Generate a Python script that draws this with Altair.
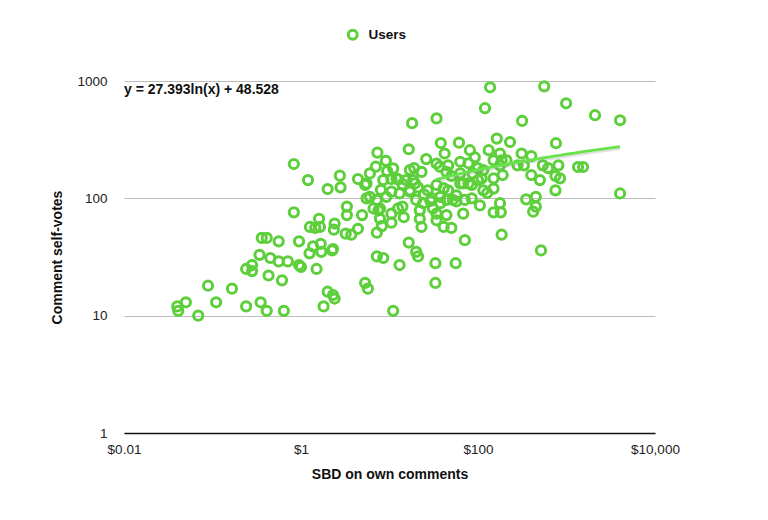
import altair as alt
import pandas as pd

# ---- data (SBD on own comments vs comment self-votes) ----
x_sbd = [
    0.040, 0.041, 0.050, 0.069, 0.089, 0.11, 0.166, 0.24, 0.24, 0.28, 0.28, 0.35, 0.41, 0.64,
    0.36, 0.41, 0.56, 0.95, 0.34, 0.45, 0.56, 0.71, 0.43, 0.61, 0.95, 0.83, 0.83,
    1.2, 2.75, 2.8, 2.0, 4.4, 5.3, 6.0, 5.5, 8.0, 10.5, 13, 7.2, 7.8, 9.2,
    3.3, 3.3, 4.9, 6.6, 7.5, 7.8, 10.5, 14, 14.5, 10.5,
    1.6, 1.26, 1.45, 1.64, 2.4, 2.35, 1.25, 1.37, 1.67, 1.7, 2.25, 2.3, 3.7, 4.4, 1.0, 1.5,
    3.2, 7.2, 7.2, 2.0, 2.3, 2.4, 1.8, 5.3, 5.7, 11, 8.5, 13,
    7.3, 9.1, 7.0, 6.0, 11, 12, 10.5, 9.4, 12.5, 8.5, 5.5, 12.5, 8.2,
    18, 34, 38, 61, 16.5, 42, 26, 17, 19, 23, 18.5, 17, 34, 37, 46, 63, 44, 63,
    17, 20, 24.5, 24, 30, 34, 41, 63, 52, 44, 37.5, 34, 44, 68, 71,
    22, 22, 23, 34, 41, 50,
    15.5, 19.4, 14, 21, 27, 29, 31, 37.5, 46, 57, 57,
    16.5, 20, 21, 33, 56, 71, 33,
    137, 560, 120, 990, 315, 2100, 4030, 163, 230, 132, 177, 185, 760, 311, 400,
    150, 210, 177, 78, 100, 115, 87, 280, 330, 540, 620, 810, 500, 750, 845, 400,
    1350, 1540, 4030, 750, 110, 150, 190, 150, 115, 85, 68, 85, 105, 177, 150, 181,
    350, 450, 450, 420, 185, 515,
    81, 92, 50, 78, 127, 100,
]
y_votes = [
    12, 11, 13, 10, 18, 13, 17, 12, 25, 24, 27, 13, 11, 11,
    46, 46, 43, 43, 33, 31, 29, 29, 22, 20, 27, 196, 76,
    143, 156, 124, 120, 146, 130, 103, 100, 118, 114, 110, 97, 82, 103,
    85, 72, 72, 82, 79, 67, 74, 85, 69, 62,
    67, 57, 56, 57, 61, 54, 34, 39, 41, 35, 36, 37, 49, 55, 26, 25,
    50, 51, 32, 16, 15, 14, 12, 19, 17, 11, 31, 27,
    245, 209, 186, 163, 180, 148, 146, 171, 145, 143, 134, 82, 58,
    437, 480, 296, 298, 262, 241, 216, 174, 181, 168, 143, 117, 198, 186, 191, 205, 168, 163,
    114, 97, 108, 91, 100, 130, 122, 134, 97, 97, 91, 74, 72, 74, 97,
    79, 67, 57, 65, 57, 56,
    143, 134, 132, 124, 117, 95, 82, 103, 117, 106, 94,
    42, 35, 32, 28, 28, 44, 19,
    884, 900, 586, 646, 457, 511, 463, 323, 302, 257, 241, 211, 295, 241, 229,
    211, 211, 191, 199, 181, 174, 163, 191, 191, 191, 181, 191, 143, 155, 148, 158,
    185, 185, 110, 117, 148, 148, 158, 121, 117, 130, 134, 100, 87, 91, 76, 76,
    98, 103, 85, 77, 49, 36,
    257, 224, 155, 134, 111, 143,
]
series_name = ["Users"]

# trend line shown on the chart: y = 27.393 ln(x) + 48.528, drawn over the fitted x range
trend_slope = 27.393
trend_intercept = 48.528
trend_x_start = 33.5
trend_x_end = 4030
equation_label = ["y = 27.393ln(x) + 48.528"]

x_tick_values = [0.01, 1, 100, 10000]
y_tick_values = [1, 10, 100, 1000]

GREEN = "#5ccf3b"
LINE_GREEN = "#66e44a"
FONT = "Liberation Sans"

df = pd.DataFrame({"x": x_sbd, "y": y_votes})
df["series"] = series_name[0]

xscale = alt.Scale(type="log", domain=[0.01, 10000])
yscale = alt.Scale(type="log", domain=[1, 1000])

points = alt.Chart(df).mark_point(
    shape="circle", filled=False, size=85, strokeWidth=3, opacity=1
).encode(
    x=alt.X(
        "x:Q", scale=xscale,
        axis=alt.Axis(
            values=x_tick_values, labelExpr="'$' + format(datum.value, ',')",
            title="SBD on own comments", grid=False, ticks=False,
            domainColor="#111111", domainWidth=1.5, labelPadding=9,
            titlePadding=12, labelFlush=False,
        ),
    ),
    y=alt.Y(
        "y:Q", scale=yscale,
        axis=alt.Axis(
            values=y_tick_values, format="d", title="Comment self-votes",
            grid=True, gridColor="#bdbdbd", gridWidth=1.2, domain=False,
            ticks=False, labelPadding=17, titlePadding=12, labelFlush=False,
        ),
    ),
    color=alt.Color(
        "series:N", scale=alt.Scale(range=[GREEN]),
        legend=alt.Legend(
            title=None, orient="none", legendX=222, legendY=-53,
            symbolType="circle", symbolStrokeWidth=3, symbolSize=80,
            symbolFillColor="transparent", labelFont=FONT, labelFontSize=13.5,
            labelFontWeight="bold", labelColor="#111111", labelOffset=9,
        ),
    ),
)

trend_base = alt.Chart(alt.sequence(0, 1.0001, 0.02, as_="t")).transform_calculate(
    x=f"{trend_x_start} * pow({trend_x_end} / {trend_x_start}, datum.t)"
).transform_calculate(
    y=f"{trend_slope} * log(datum.x) + {trend_intercept}"
)

trend_shadow = trend_base.mark_line(
    color="#888888", strokeWidth=3, opacity=0.25, yOffset=2
).encode(
    x=alt.X("x:Q", scale=xscale),
    y=alt.Y("y:Q", scale=yscale),
)

trend = trend_base.mark_line(color=LINE_GREEN, strokeWidth=2.8).encode(
    x=alt.X("x:Q", scale=xscale),
    y=alt.Y("y:Q", scale=yscale),
)

equation = alt.Chart(pd.DataFrame({"eq": equation_label})).mark_text(
    align="left", baseline="middle", font=FONT, fontSize=14,
    fontWeight="bold", color="#111111",
).encode(text="eq:N", x=alt.value(0), y=alt.value(9))

chart = alt.layer(points, trend_shadow, trend, equation).properties(
    width=531, height=352,
    padding={"left": 124, "top": 81, "right": 113, "bottom": 87},
    autosize=alt.AutoSizeParams(type="none"),
    background="white",
).configure_view(stroke=None).configure_axis(
    labelFont=FONT, labelFontSize=13.5, labelColor="#222222",
    titleFont=FONT, titleFontSize=14, titleFontWeight="bold", titleColor="#111111",
)

chart.save("out.html", embed_options={"renderer": "svg", "actions": False})
